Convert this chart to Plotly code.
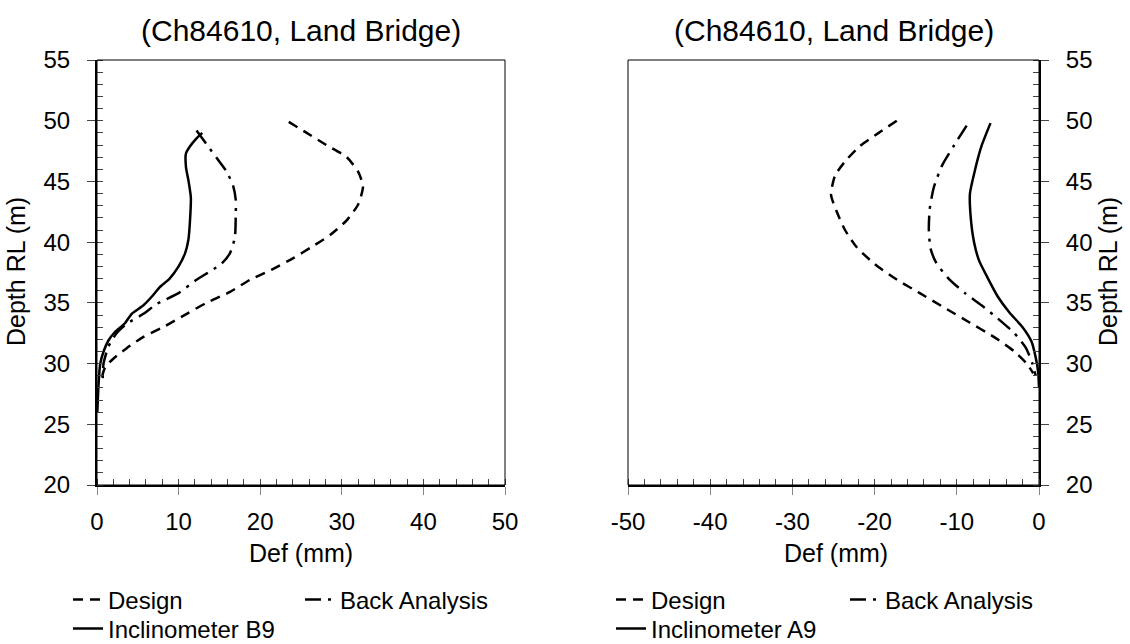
import plotly.graph_objects as go

# ---------------- data ----------------
# Left panel (Inclinometer B9), Def in mm, Depth RL in m
design_b_def = [23.5, 25.7, 28.1, 30.6, 32.0, 32.6, 32.0, 30.6, 28.6, 26.3, 24.1, 21.6,
                18.75, 16.3, 13.4, 11.0, 8.1, 5.7, 3.6, 2.0, 1.0, 0.6]
design_b_rl = [49.9, 49.0, 48.0, 47.0, 45.8, 44.6, 43.1, 41.8, 40.6, 39.6, 38.7, 37.8,
               36.9, 35.9, 35.0, 34.1, 33.0, 32.2, 31.25, 30.4, 29.7, 28.9]

back_b_def = [12.2, 13.6, 14.7, 15.9, 16.7, 17.0, 17.0, 16.9, 16.3, 15.3, 14.0, 12.2,
              10.0, 7.3, 5.7, 3.6, 2.4, 1.4, 0.8, 0.7]
back_b_rl = [49.2, 47.9, 46.9, 45.8, 44.6, 43.5, 42.1, 40.4, 39.1, 38.25, 37.65, 36.9,
             35.8, 34.9, 34.1, 33.25, 32.5, 31.4, 30.0, 28.8]

incl_b9_def = [12.9, 12.2, 11.4, 10.9, 10.9, 11.2, 11.5, 11.4, 11.2, 10.8, 10.0, 8.9,
               7.7, 6.7, 5.7, 4.25, 3.4, 2.2, 1.4, 0.86, 0.4, 0.2, 0.04]
incl_b9_rl = [49.0, 48.55, 47.9, 47.3, 46.2, 45.1, 43.7, 41.8, 40.2, 39.1, 38.0, 37.0,
              36.3, 35.5, 34.8, 34.1, 33.3, 32.6, 31.9, 31.1, 30.0, 28.4, 26.0]

# Right panel (Inclinometer A9)
design_a_def = [-17.3, -19.5, -21.8, -23.4, -24.8, -25.3, -24.6, -23.6, -22.2, -20.0,
                -17.5, -14.5, -11.5, -8.5, -5.5, -3.0, -1.5, -0.7]
design_a_rl = [50.0, 49.0, 47.9, 46.8, 45.5, 43.9, 42.5, 41.0, 39.6, 38.2,
               37.0, 35.8, 34.6, 33.4, 32.2, 31.0, 30.0, 29.2]

back_a_def = [-8.8, -10.3, -11.8, -12.8, -13.3, -13.4, -13.2, -12.5, -11.0, -9.0,
              -7.0, -5.0, -3.0, -1.6, -0.8, -0.4]
back_a_rl = [49.6, 48.0, 46.3, 44.5, 42.7, 41.0, 39.5, 38.3, 37.0, 35.8,
             34.8, 33.7, 32.5, 31.3, 30.0, 29.0]

incl_a9_def = [-5.9, -7.0, -7.8, -8.4, -8.3, -7.9, -7.3, -6.2, -5.0, -3.6, -2.0, -0.9,
               -0.4, -0.1, 0.0]
incl_a9_rl = [49.8, 47.9, 45.9, 44.0, 42.0, 40.0, 38.5, 37.0, 35.5, 34.2, 33.0, 31.8,
              30.5, 29.3, 28.0]

# tick labels
x_left_ticks = [0, 10, 20, 30, 40, 50]
x_right_ticks = [-50, -40, -30, -20, -10, 0]
x_right_ticktext = ["-50", "-40", "-30", "-20", "-10", "0"]
y_ticks = [20, 25, 30, 35, 40, 45, 50, 55]

title_text = "(Ch84610, Land Bridge)"
x_title = "Def (mm)"
y_title = "Depth RL (m)"
names_left = ["Design", "Back Analysis", "Inclinometer B9"]
names_right = ["Design", "Back Analysis", "Inclinometer A9"]

# ---------------- styling ----------------
W, H = 1130, 644
FONT = "Liberation Sans, Arial, sans-serif"
LW = 2.5
DASH_DESIGN = "10px,7px"
DASH_BACK = "16px,7px,3px,7px"


def px_x(p):
    return p / W


def px_y(p):
    return 1 - p / H


fig = go.Figure()

series = [
    (design_b_def, design_b_rl, names_left[0], DASH_DESIGN, "x", "y", "legend"),
    (back_b_def, back_b_rl, names_left[1], DASH_BACK, "x", "y", "legend2"),
    (incl_b9_def, incl_b9_rl, names_left[2], "solid", "x", "y", "legend3"),
    (design_a_def, design_a_rl, names_right[0], DASH_DESIGN, "x2", "y2", "legend4"),
    (back_a_def, back_a_rl, names_right[1], DASH_BACK, "x2", "y2", "legend5"),
    (incl_a9_def, incl_a9_rl, names_right[2], "solid", "x2", "y2", "legend6"),
]
for xs, ys, name, dash, xa, ya, lg in series:
    fig.add_trace(go.Scatter(
        x=xs, y=ys, name=name, mode="lines", xaxis=xa, yaxis=ya, legend=lg,
        line=dict(color="black", width=LW, dash=dash, shape="spline", smoothing=0.6),
        hoverinfo="skip",
    ))

TICKFONT = dict(family=FONT, size=24, color="black")
common_x = dict(
    showgrid=False, zeroline=False, showline=True, linecolor="black", linewidth=2,
    ticks="outside", ticklen=8, tickwidth=1, tickcolor="#888888",
    tickfont=TICKFONT, ticklabelstandoff=6,
    minor=dict(ticks="inside", dtick=2, ticklen=6, tickwidth=1, tickcolor="#444444", showgrid=False),
)
common_y = dict(
    showgrid=False, zeroline=False, showline=True, linecolor="black", linewidth=2,
    ticks="outside", ticklen=8, tickwidth=1, tickcolor="#444444",
    tickvals=y_ticks, ticktext=[str(v) for v in y_ticks],
    tickfont=TICKFONT, ticklabelstandoff=12,
    minor=dict(ticks="inside", dtick=1, ticklen=6, tickwidth=1, tickcolor="#444444", showgrid=False),
)

ydom = [px_y(485), px_y(60)]
fig.update_layout(
    width=W, height=H,
    margin=dict(l=0, r=0, t=0, b=0, autoexpand=False),
    paper_bgcolor="white", plot_bgcolor="white",
    font=dict(family=FONT, size=25, color="black"),
    xaxis=dict(domain=[px_x(97), px_x(505)], range=[0, 50], anchor="y",
               tickvals=x_left_ticks, ticktext=[str(v) for v in x_left_ticks], **common_x),
    yaxis=dict(domain=ydom, range=[20, 55], anchor="x", side="left", **common_y),
    xaxis2=dict(domain=[px_x(628), px_x(1039)], range=[-50, 0], anchor="y2",
                tickvals=x_right_ticks, ticktext=x_right_ticktext, **common_x),
    yaxis2=dict(domain=ydom, range=[20, 55], anchor="x2", side="right", **common_y),
    showlegend=True,
)

# thin frame around each plot area
for xr, yr in [("x domain", "y domain"), ("x2 domain", "y2 domain")]:
    fig.add_shape(type="rect", xref=xr, yref=yr, x0=0, x1=1, y0=0, y1=1,
                  line=dict(color="black", width=1), layer="above")

# legends (one entry each, positioned like the reference)
legend_pos = {
    "legend": (68, 600), "legend2": (300, 600), "legend3": (68, 629),
    "legend4": (611, 600), "legend5": (845, 600), "legend6": (611, 629),
}
for key, (lx, ly) in legend_pos.items():
    fig.update_layout({key: dict(
        x=px_x(lx), y=px_y(ly), xanchor="left", yanchor="middle",
        bgcolor="rgba(0,0,0,0)", borderwidth=0, itemwidth=30,
        font=dict(family=FONT, size=24, color="black"), orientation="v",
        tracegroupgap=0,
    )})

# titles and axis titles
annos = [
    dict(text=title_text, x=px_x(301), y=px_y(30), size=30, angle=0),
    dict(text=title_text, x=px_x(834), y=px_y(30), size=30, angle=0),
    dict(text=x_title, x=px_x(301), y=px_y(553), size=25, angle=0),
    dict(text=x_title, x=px_x(836), y=px_y(553), size=25, angle=0),
    dict(text=y_title, x=px_x(16), y=px_y(272), size=25, angle=-90),
    dict(text=y_title, x=px_x(1108), y=px_y(272), size=25, angle=-90),
]
for a in annos:
    fig.add_annotation(text=a["text"], x=a["x"], y=a["y"], xref="paper", yref="paper",
                       xanchor="center", yanchor="middle", showarrow=False,
                       textangle=a["angle"], font=dict(family=FONT, size=a["size"], color="black"))

# remove the default 8px page margin so the figure fills the window exactly
fig.write_html("out.html", config={"displayModeBar": False},
               post_script="document.body.style.margin='0';")
